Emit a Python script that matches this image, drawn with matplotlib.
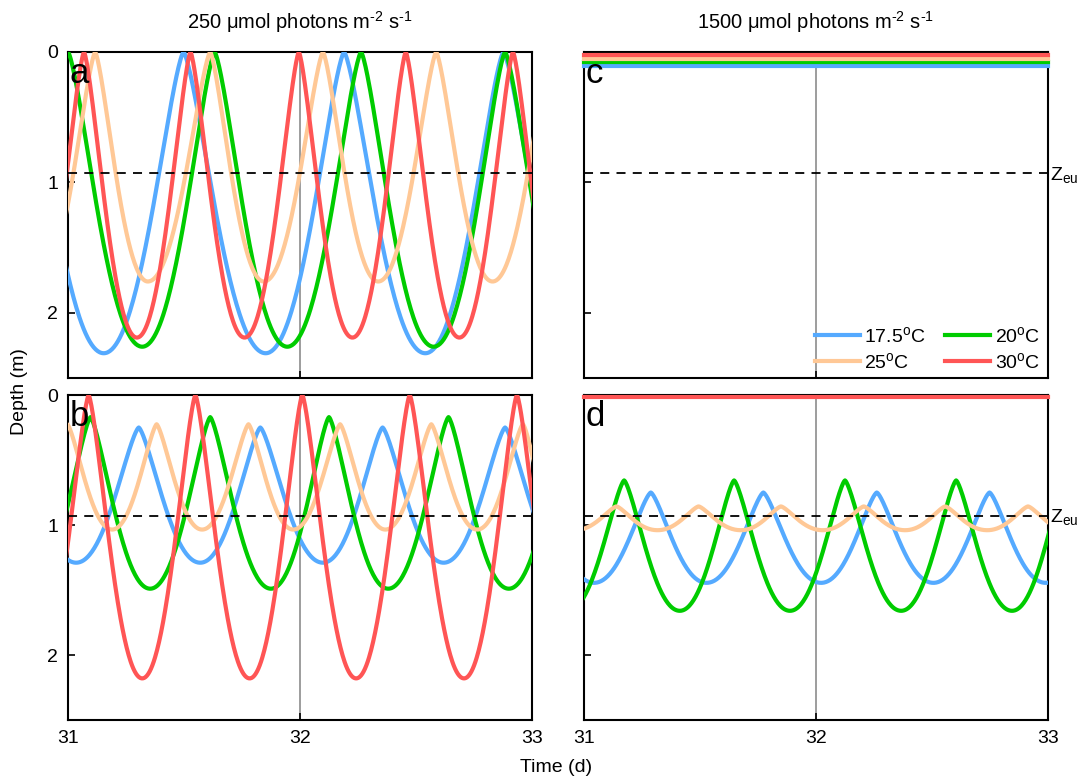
import numpy as np
import matplotlib
matplotlib.use("Agg")
import matplotlib.pyplot as plt
import matplotlib.transforms as mtransforms

plt.rcParams['font.family'] = ['Liberation Sans', 'DejaVu Sans']
plt.rcParams['mathtext.default'] = 'regular'

colors = {'17.5': '#55AAFF', '20': '#00CC00', '25': '#FFC896', '30': '#FF5555'}
labels = {'17.5': r'17.5$^o$C', '20': r'20$^o$C', '25': r'25$^o$C', '30': r'30$^o$C'}
zeu = 0.93

# turning points (time in d, depth in m),
# one extra point beyond each edge so the curve runs to the axes
# panel a: 250 umol, top row
a_t = {
    '17.5': [30.81, 31.154, 31.498, 31.852, 32.19, 32.54, 32.877, 33.23],
    '20': [30.69, 31.0, 31.32, 31.632, 31.945, 32.263, 32.576, 32.884, 33.2],
    '25': [30.877, 31.117, 31.344, 31.613, 31.844, 32.099, 32.337, 32.587, 32.83, 33.08],
    '30': [30.838, 31.069, 31.297, 31.528, 31.761, 31.995, 32.226, 32.456, 32.687, 32.918, 33.15],
}
a_z = {
    '17.5': [0, 2.31, 0, 2.31, 0, 2.31, 0, 2.31],
    '20': [2.26, 0, 2.26, 0, 2.26, 0, 2.26, 0, 2.26],
    '25': [1.76, 0, 1.76, 0, 1.76, 0, 1.76, 0, 1.76, 0],
    '30': [2.19, 0, 2.19, 0, 2.19, 0, 2.19, 0, 2.19, 0, 2.19],
}
# panel b: 250 umol, bottom row
b_t = {
    '17.5': [30.765, 31.035, 31.305, 31.57, 31.829, 32.099, 32.356, 32.619, 32.884, 33.15],
    '20': [30.84, 31.097, 31.354, 31.613, 31.875, 32.125, 32.38, 32.64, 32.9, 33.16],
    '25': [30.8, 30.997, 31.19, 31.382, 31.578, 31.778, 31.971, 32.173, 32.368, 32.566, 32.764, 32.961, 33.13],
    '30': [30.858, 31.089, 31.32, 31.549, 31.783, 32.01, 32.242, 32.473, 32.707, 32.935, 33.17],
}
b_z = {
    '17.5': [0.25, 1.29, 0.25, 1.29, 0.25, 1.29, 0.25, 1.29, 0.25, 1.29],
    '20': [1.49, 0.17, 1.49, 0.17, 1.49, 0.17, 1.49, 0.17, 1.49, 0.17],
    '25': [1.035, 0.225, 1.035, 0.225, 1.035, 0.225, 1.035, 0.225, 1.035, 0.225, 1.035, 0.225, 1.035],
    '30': [2.18, 0, 2.18, 0, 2.18, 0, 2.18, 0, 2.18, 0, 2.18],
}
# panel c: 1500 umol, all stay at the surface
c_depth = {'17.5': 0.11, '20': 0.08, '25': 0.05, '30': 0.02}
# panel d: 1500 umol, bottom row
d_t = {
    '17.5': [30.80, 31.043, 31.288, 31.528, 31.773, 32.022, 32.262, 32.506, 32.748, 32.99, 33.23],
    '20': [30.93, 31.173, 31.413, 31.647, 31.888, 32.125, 32.367, 32.604, 32.845, 33.075],
    '25': [30.96, 31.14, 31.317, 31.494, 31.676, 31.849, 32.029, 32.206, 32.384, 32.557, 32.738, 32.914, 33.09],
}
d_z = {
    '17.5': [0.75, 1.445, 0.75, 1.445, 0.75, 1.445, 0.75, 1.445, 0.75, 1.445, 0.75],
    '20': [1.66, 0.657, 1.66, 0.657, 1.66, 0.657, 1.66, 0.657, 1.66, 0.657],
    '25': [1.04, 0.857, 1.04, 0.857, 1.04, 0.857, 1.04, 0.857, 1.04, 0.857, 1.04, 0.857, 1.04],
}
d_red = 0.015


def smooth(ts, zs, n=80):
    # smooth line through turning points: narrow near the surface, wide at depth
    tt, zz = [], []
    for i in range(len(ts) - 1):
        t0, t1, z0, z1 = ts[i], ts[i + 1], zs[i], zs[i + 1]
        u = np.linspace(0, 1, n)
        if z0 <= z1:
            s = u
            top, bot = z0, z1
        else:
            s = 1 - u
            top, bot = z1, z0
        f = (1 - np.cos(np.pi * s ** 0.7)) / 2
        tt.extend(t0 + (t1 - t0) * u)
        zz.extend(top + (bot - top) * f)
    return np.array(tt), np.array(zz)


fig = plt.figure(figsize=(10.78, 7.82), dpi=100)
W, H = 1078, 782
ax_a = fig.add_axes([68 / W, 1 - 378 / H, 464 / W, 326 / H])
ax_b = fig.add_axes([68 / W, 1 - 720 / H, 464 / W, 325 / H])
ax_c = fig.add_axes([584 / W, 1 - 378 / H, 464 / W, 326 / H])
ax_d = fig.add_axes([584 / W, 1 - 720 / H, 464 / W, 325 / H])

order = ['17.5', '20', '25', '30']
lw = 3.0
fs = 14

for ax, tdict, zdict in [(ax_a, a_t, a_z), (ax_b, b_t, b_z), (ax_d, d_t, d_z)]:
    for k in order:
        if k in tdict:
            t, z = smooth(tdict[k], zdict[k])
            ax.plot(t, z, color=colors[k], lw=lw, zorder=3)

for k in order:
    ax_c.plot([31, 33], [c_depth[k]] * 2, color=colors[k], lw=lw, zorder=3,
              clip_on=False, label=labels[k])
ax_d.plot([31, 33], [d_red] * 2, color=colors['30'], lw=lw, zorder=3, clip_on=False)

for ax, letter in zip([ax_a, ax_b, ax_c, ax_d], 'abcd'):
    ax.set_xlim(31, 33)
    ax.set_ylim(2.5, 0)
    ax.axvline(32, color='#8c8c8c', lw=1.2, zorder=1)
    ax.axhline(zeu, color='black', lw=1.3, ls=(0, (5, 4)), zorder=5)
    ax.set_xticks([31, 32, 33])
    ax.set_yticks([0, 1, 2])
    ax.tick_params(direction='in', length=5, width=1.2, labelsize=fs, pad=7)
    for sp in ax.spines.values():
        sp.set_linewidth(1.5)
    ax.text(0.004, 0.985, letter, transform=ax.transAxes, fontsize=25,
            va='top', ha='left', zorder=6)

for ax in [ax_a, ax_c]:
    ax.tick_params(labelbottom=False)
for ax in [ax_c, ax_d]:
    ax.tick_params(labelleft=False)
    tr = mtransforms.blended_transform_factory(ax.transAxes, ax.transData)
    ax.text(1.004, zeu + 0.01, r'Z$_{eu}$', transform=tr, fontsize=fs,
            va='center', ha='left')

h, l = ax_c.get_legend_handles_labels()
idx = [0, 2, 1, 3]
ax_c.legend([h[i] for i in idx], [l[i] for i in idx], ncol=2, loc='lower right',
            bbox_to_anchor=(1.0, -0.005), frameon=False, fontsize=fs,
            handlelength=2.3, handletextpad=0.25, columnspacing=1.0,
            labelspacing=0.3, borderaxespad=0.0)

hy = '\u2010'
fig.text(300 / W, 1 - 22 / H, '250 μmol photons m$^{' + hy + '2}$ s$^{' + hy + '1}$',
         fontsize=14.5, ha='center', va='center')
fig.text(816 / W, 1 - 22 / H, '1500 μmol photons m$^{' + hy + '2}$ s$^{' + hy + '1}$',
         fontsize=14.5, ha='center', va='center')
fig.text(20 / W, 1 - 392 / H, 'Depth (m)', rotation=90, fontsize=fs,
         ha='center', va='center')
fig.text(556 / W, 1 - 768 / H, 'Time (d)', fontsize=fs, ha='center', va='center')

fig.savefig('out.png', dpi=100)
